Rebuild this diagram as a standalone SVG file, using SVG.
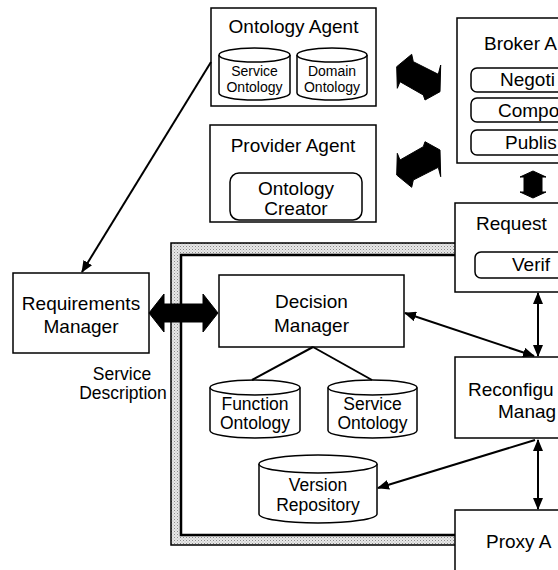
<svg xmlns="http://www.w3.org/2000/svg" width="558" height="570" viewBox="0 0 558 570">
<defs>
<style>
text{font-family:"Liberation Sans",Arial,sans-serif;fill:#000}
.b{fill:#fff;stroke:#000;stroke-width:1.5}
.t18{font-size:19px}
.t17{font-size:17.5px}
.t14{font-size:14px}
.c{text-anchor:middle}
.ln{stroke:#000;stroke-width:2;fill:none}
.fat{fill:#000;stroke:#000;stroke-width:1}
</style>
<marker id="ah" viewBox="0 0 12 10" refX="11" refY="5" markerWidth="12" markerHeight="10" markerUnits="userSpaceOnUse" orient="auto-start-reverse">
<path d="M0,0 L12,5 L0,10 Z" fill="#000"/>
</marker>
<pattern id="dots" width="3" height="3" patternUnits="userSpaceOnUse">
<rect width="3" height="3" fill="#e8e8e8"/>
<rect width="1" height="1" fill="#8a8a8a"/>
<rect x="1.5" y="1.5" width="1" height="1" fill="#b0b0b0"/>
</pattern>
</defs>
<rect width="558" height="570" fill="#fff"/>

<g id="frame">
<path d="M455,243 H171 V545 H455 V535 H181 V255 H455 Z" fill="url(#dots)"/>
<path d="M455,243 H171 V545 H455" fill="none" stroke="#000" stroke-width="1.5"/>
<path d="M455,255 H181 V535 H455" fill="none" stroke="#000" stroke-width="2.5"/>
</g>

<g id="ontology-agent">
<rect class="b" x="211" y="8" width="165" height="98"/>
<text class="t18 c" x="293.5" y="33">Ontology Agent</text>
<g id="service-ontology-top">
<path class="b" d="M219,55 V93 A35.5,7 0 0 0 290,93 V55"/>
<ellipse class="b" cx="254.5" cy="55" rx="35.5" ry="7"/>
<text class="t14 c" x="254.5" y="76">Service</text>
<text class="t14 c" x="254.5" y="92">Ontology</text>
</g>
<g id="domain-ontology">
<path class="b" d="M297,55 V93 A35,7 0 0 0 367,93 V55"/>
<ellipse class="b" cx="332" cy="55" rx="35" ry="7"/>
<text class="t14 c" x="332" y="76">Domain</text>
<text class="t14 c" x="332" y="92">Ontology</text>
</g>
</g>

<g id="provider-agent">
<rect class="b" x="210" y="125" width="166" height="97"/>
<text class="t18 c" x="293" y="152">Provider Agent</text>
<rect class="b" x="230" y="173" width="132" height="47" rx="9"/>
<text class="t18 c" x="296" y="195">Ontology</text>
<text class="t18 c" x="296" y="215">Creator</text>
</g>

<g id="broker-agent">
<rect class="b" x="457" y="18" width="110" height="145"/>
<text class="t18" x="484" y="50">Broker A</text>
<rect class="b" x="471" y="68" width="100" height="24" rx="6"/>
<text class="t18" x="500" y="86">Negoti</text>
<rect class="b" x="471" y="98" width="100" height="24" rx="6"/>
<text class="t18" x="498" y="117">Compo</text>
<rect class="b" x="471" y="130" width="100" height="25" rx="6"/>
<text class="t18" x="505" y="149">Publis</text>
</g>

<g id="request-agent">
<rect class="b" x="455" y="203" width="112" height="89"/>
<text class="t18" x="476" y="230">Request</text>
<rect class="b" x="475" y="252" width="100" height="26" rx="6"/>
<text class="t18" x="512" y="271">Verif</text>
</g>

<g id="reconfiguration-manager">
<rect class="b" x="455" y="357" width="112" height="81"/>
<text class="t18" x="468" y="396">Reconfigu</text>
<text class="t18" x="498" y="418">Manag</text>
</g>

<g id="proxy-agent">
<rect class="b" x="455" y="510" width="112" height="62"/>
<text class="t18" x="486" y="548">Proxy A</text>
</g>

<g id="requirements-manager">
<rect class="b" x="13" y="273" width="136" height="80"/>
<text class="t18 c" x="81" y="310">Requirements</text>
<text class="t18 c" x="81" y="333">Manager</text>
</g>

<g id="service-description">
<text class="t17 c" x="122" y="380">Service</text>
<text class="t17 c" x="123" y="399">Description</text>
</g>

<g id="decision-manager">
<rect class="b" x="219" y="275" width="185" height="72"/>
<text class="t18 c" x="311.5" y="308">Decision</text>
<text class="t18 c" x="311.5" y="332">Manager</text>
</g>

<g id="function-ontology">
<path class="b" d="M210,387.5 V430.5 A45,7.5 0 0 0 300,430.5 V387.5"/>
<ellipse class="b" cx="255" cy="387.5" rx="45" ry="7.5"/>
<text class="t17 c" x="255" y="410">Function</text>
<text class="t17 c" x="255" y="429">Ontology</text>
</g>

<g id="service-ontology">
<path class="b" d="M328,387.5 V430.5 A44.5,7.5 0 0 0 417,430.5 V387.5"/>
<ellipse class="b" cx="372.5" cy="387.5" rx="44.5" ry="7.5"/>
<text class="t17 c" x="372.5" y="410">Service</text>
<text class="t17 c" x="372.5" y="429">Ontology</text>
</g>

<g id="version-repository">
<path class="b" d="M259,464 V514 A59,9 0 0 0 377,514 V464"/>
<ellipse class="b" cx="318" cy="464" rx="59" ry="9"/>
<text class="t17 c" x="318" y="491">Version</text>
<text class="t17 c" x="318" y="511">Repository</text>
</g>

<g id="connectors">
<line class="ln" x1="211" y1="62" x2="82" y2="272" marker-end="url(#ah)"/>
<line class="ln" x1="313" y1="347" x2="252" y2="380"/>
<line class="ln" x1="313" y1="347" x2="372" y2="380"/>
<line class="ln" x1="405" y1="313" x2="534" y2="356" marker-start="url(#ah)" marker-end="url(#ah)"/>
<line class="ln" x1="538" y1="293" x2="538" y2="356" marker-start="url(#ah)" marker-end="url(#ah)"/>
<line class="ln" x1="535" y1="440" x2="378" y2="488" marker-end="url(#ah)"/>
<line class="ln" x1="538" y1="440" x2="538" y2="509" marker-start="url(#ah)" marker-end="url(#ah)"/>
<polygon class="fat" points="411.7,54.3 413.3,61.7 438.3,74.3 440.7,65 440,91.7 425,100 423.3,95 400,81.7 397.3,88.3 396.7,66.7"/>
<polygon class="fat" points="411.7,187.3 413.3,180 438.3,167.3 440.7,176.7 440,150 425,141.7 423.3,146.7 400,160 397.3,153.3 396.7,175"/>
<polygon class="fat" points="149,313 164,294 164,304 203,304 203,294 218,313 203,332 203,322 164,322 164,332"/>
<polygon class="fat" points="533,171 546,177 542,177 542,192 546,192 533,198 520,192 524,192 524,177 520,177"/>
</g>
</svg>
